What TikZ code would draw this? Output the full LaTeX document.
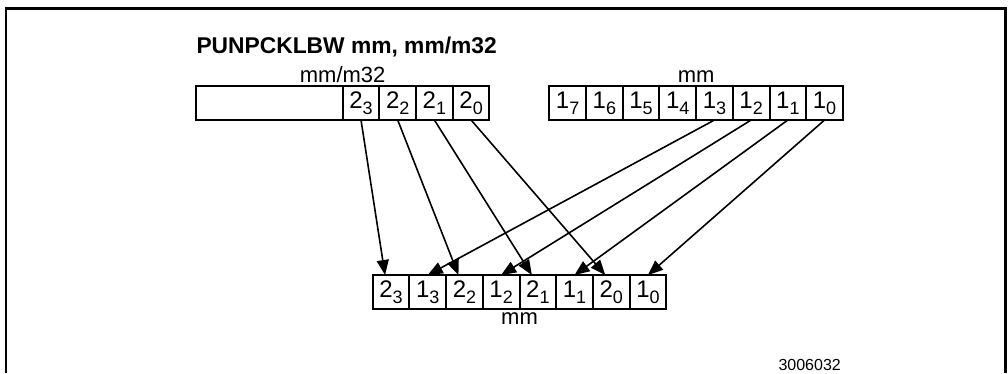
\documentclass[tikz,border=0pt]{standalone}
\usepackage{fontspec}
\setmainfont{Liberation Sans}
\usetikzlibrary{arrows.meta}
\newcommand{\byteel}[2]{#1\raisebox{-6pt}{\fontsize{18}{18}\selectfont #2}}
\tikzset{%
  >={Triangle[length=15pt,width=12pt]},
  % Specifications for style of nodes:
            cell/.style = {rectangle, draw=black, line width=2pt,
                           minimum width=36.7pt, minimum height=34pt,
                           inner sep=0pt, outer sep=0pt,
                           font=\fontsize{24}{24}\selectfont},
       blankcell/.style = {cell, minimum width=146.8pt},
             lbl/.style = {font=\fontsize{22}{22}\selectfont},
            move/.style = {->, line width=1.6pt}
}

\begin{document}
\begin{tikzpicture}[x={(1pt,0)}, y={(0,-1pt)}, node distance=36.7pt]
  \useasboundingbox (0,0) rectangle (1008,373);
  % frame
  \draw[line width=2.3pt] (6,373) -- (6,8.5) -- (1005.5,8.5) -- (1005.5,373);
  \node (title)   [anchor=base west, font=\fontsize{22.8}{23}\selectfont\bfseries] at (193,53) {PUNPCKLBW mm, mm/m32};
  % Source register (mm/m32)
  \node (src3)    [cell] at (361,103) {\byteel{2}{3}};
  \node (src2)    [cell, right of = src3] {\byteel{2}{2}};
  \node (src1)    [cell, right of = src2] {\byteel{2}{1}};
  \node (src0)    [cell, right of = src1] {\byteel{2}{0}};
  \node (blank)   [blankcell, left of = src3, xshift = -55.05pt] {};
  \node [lbl, above] at (blank.north east) {mm/m32};
  % Destination register (mm)
  \node (dst7)    [cell] at (567.65,103) {\byteel{1}{7}};
  \node (dst6)    [cell, right of = dst7] {\byteel{1}{6}};
  \node (dst5)    [cell, right of = dst6] {\byteel{1}{5}};
  \node (dst4)    [cell, right of = dst5] {\byteel{1}{4}};
  \node (dst3)    [cell, right of = dst4] {\byteel{1}{3}};
  \node (dst2)    [cell, right of = dst3] {\byteel{1}{2}};
  \node (dst1)    [cell, right of = dst2] {\byteel{1}{1}};
  \node (dst0)    [cell, right of = dst1] {\byteel{1}{0}};
  \node [lbl, above] at (dst4.north east) {mm};
  % Result register (mm)
  \node (res0)    [cell] at (391.05,292) {\byteel{2}{3}};
  \node (res1)    [cell, right of = res0] {\byteel{1}{3}};
  \node (res2)    [cell, right of = res1] {\byteel{2}{2}};
  \node (res3)    [cell, right of = res2] {\byteel{1}{2}};
  \node (res4)    [cell, right of = res3] {\byteel{2}{1}};
  \node (res5)    [cell, right of = res4] {\byteel{1}{1}};
  \node (res6)    [cell, right of = res5] {\byteel{2}{0}};
  \node (res7)    [cell, right of = res6] {\byteel{1}{0}};
  \node [lbl, below] at (res3.south east) {mm};
  \node (figid)   [anchor=base west, font=\fontsize{16}{16}\selectfont] at (775,370) {3006032};
  % Interleaving
  \draw[move]     (src3.south) -- ([xshift=-6pt]res0.north);
  \draw[move]     (src2.south) -- ([xshift=-6pt]res2.north);
  \draw[move]     (src1.south) -- ([xshift=-6pt]res4.north);
  \draw[move]     (src0.south) -- ([xshift=-6pt]res6.north);
  \draw[move]     (dst3.south) -- (res1.north);
  \draw[move]     (dst2.south) -- (res3.north);
  \draw[move]     (dst1.south) -- (res5.north);
  \draw[move]     (dst0.south) -- (res7.north);
\end{tikzpicture}
\end{document}
